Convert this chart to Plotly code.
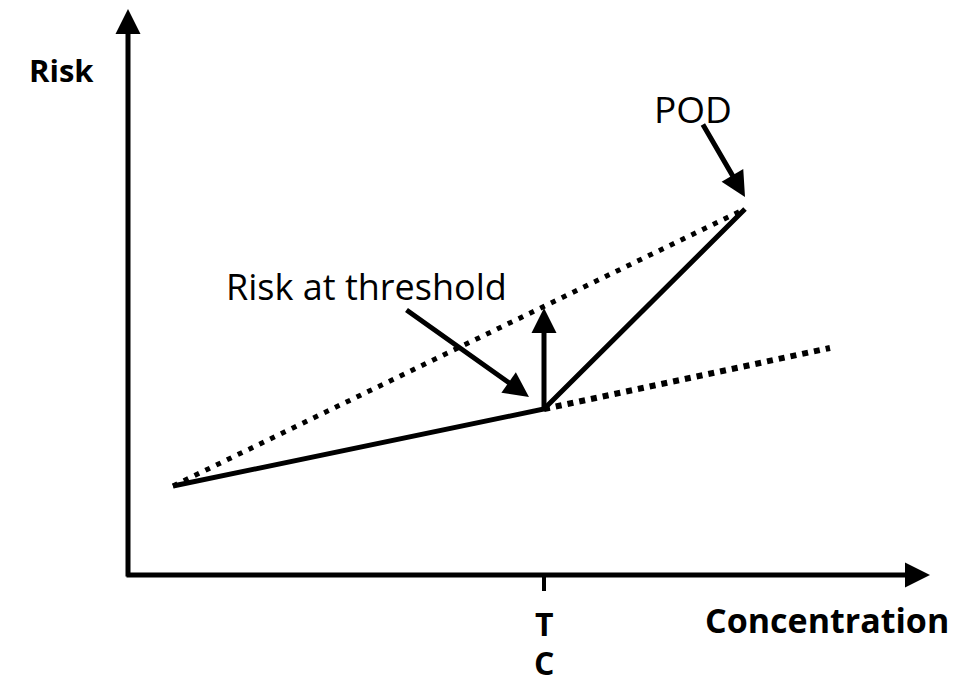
import plotly.graph_objects as go

# Schematic values (data units: concentration, risk)
path_conc = [45, 416, 617]          # start, threshold concentration TC, POD
path_risk = [89, 166, 366]
linear_conc = [45, 617]             # straight line start -> POD (dotted)
linear_risk = [89, 366]
extrap_conc = [416, 702]            # extrapolation of low-dose slope (dotted)
extrap_risk = [166, 227]
risk_at_threshold = 267             # where vertical arrow points to
tc_value = 416
axis_x_max = 802
axis_y_max = 566

FONT = "Open Sans"

fig = go.Figure()

fig.add_trace(go.Scatter(x=linear_conc, y=linear_risk, mode="lines",
                         line=dict(color="black", width=5, dash="5px,7px"),
                         hoverinfo="skip"))
fig.add_trace(go.Scatter(x=extrap_conc, y=extrap_risk, mode="lines",
                         line=dict(color="black", width=6, dash="6px,6px"),
                         hoverinfo="skip"))
fig.add_trace(go.Scatter(x=path_conc, y=path_risk, mode="lines",
                         line=dict(color="black", width=5),
                         hoverinfo="skip"))

def arrow(x, y, ax, ay, width=5, size=1.0, head=2):
    fig.add_annotation(x=x, y=y, ax=ax, ay=ay, xref="x", yref="y",
                       axref="x", ayref="y", text="", showarrow=True,
                       arrowhead=head, arrowsize=size, arrowwidth=width,
                       arrowcolor="black", standoff=0)

# axes as arrows
arrow(0, axis_y_max, 0, -3, width=5, size=1.0)
arrow(axis_x_max, 0, -3, 0, width=5, size=1.0)

# vertical arrow at TC
arrow(tc_value, risk_at_threshold, tc_value, path_risk[1], width=5, size=1.0)
# "Risk at threshold" arrow
arrow(401, 575 - 397, 277, 575 - 309, width=5, size=1.0)
# POD arrow
arrow(617, 575 - 197, 574, 575 - 123, width=5, size=1.0)

# TC tick
fig.add_shape(type="line", x0=tc_value, x1=tc_value, y0=0, y1=-16,
              line=dict(color="black", width=4))

def label(x, y, text, size, bold=False, xanchor="center"):
    fig.add_annotation(x=x, y=y, xref="x", yref="y",
                       text=f"<b>{text}</b>" if bold else text,
                       showarrow=False, xanchor=xanchor, yanchor="middle",
                       font=dict(family=FONT, size=size, color="black"))

label(-67, 575 - 70, "Risk", 31, bold=True)
label(565, 575 - 108, "POD", 37)
label(238, 575 - 286, "Risk at threshold", 36)
label(tc_value, 575 - 623, "T", 32, bold=True)
label(tc_value, 575 - 662, "C", 32, bold=True)
label(699, 575 - 620, "Concentration", 34, bold=True)

fig.update_layout(
    width=976, height=685,
    margin=dict(l=0, r=0, t=0, b=0),
    paper_bgcolor="white", plot_bgcolor="white",
    showlegend=False,
    xaxis=dict(range=[-128, 848], visible=False, fixedrange=True),
    yaxis=dict(range=[-110, 575], visible=False, fixedrange=True),
)

fig.write_html("out.html", config={"displayModeBar": False},
               post_script="document.body.style.margin='0';document.body.style.overflow='hidden';")
